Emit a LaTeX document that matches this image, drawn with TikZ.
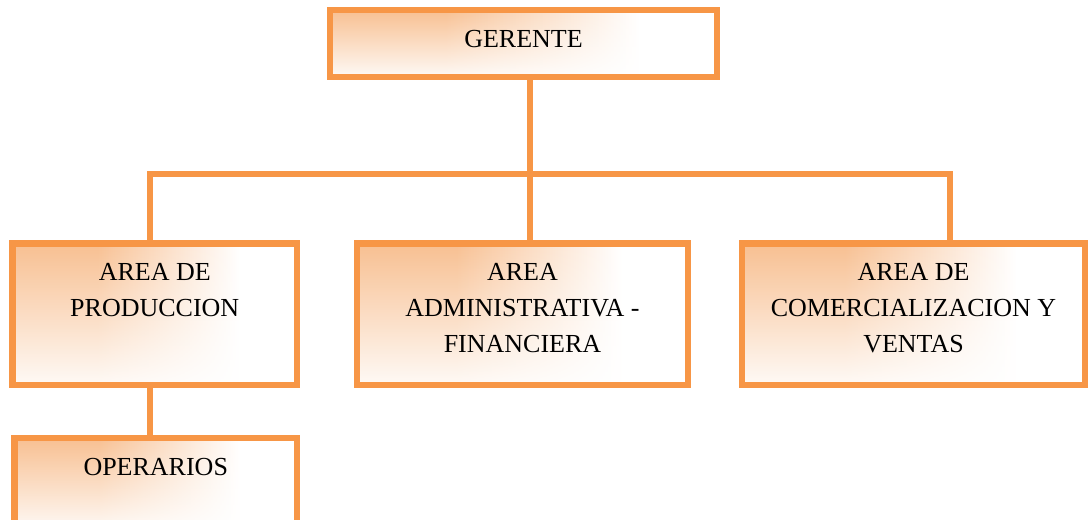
\documentclass[tikz,border=0pt]{standalone}
\usepackage{fontspec}
\setmainfont{Liberation Serif}
\usetikzlibrary{fadings}

\definecolor{boxline}{RGB}{247,150,70}
\definecolor{boxtint}{RGB}{248,192,146}

% soft orange glow on the left, fading to white towards the right
\pgfdeclarehorizontalshading{boxglow}{100bp}{%
  color(0bp)=(boxtint); color(25bp)=(boxtint); color(40bp)=(boxtint);
  color(65bp)=(white); color(100bp)=(white)}

% white veil that thickens towards the bottom of each box
\tikzfading[name=veil, top color=transparent!100,
  middle color=transparent!72, bottom color=transparent!8]

\tikzset{
  orgbox/.style={draw=boxline, line width=6.5pt, shade, shading=boxglow,
    inner sep=0pt, outer sep=0pt,
    path picture={\fill[white, path fading=veil]
      (path picture bounding box.south west) rectangle
      (path picture bounding box.north east);}},
  conn/.style={draw=boxline, line width=6pt},
  boxtext/.style={anchor=north, align=center, inner sep=0pt,
    yshift=-20pt, font=\fontsize{26}{35.8}\selectfont}
}

\begin{document}
\begin{tikzpicture}[x=1pt, y=-1pt]
  \useasboundingbox (0,0) rectangle (1091,519);
  \clip (0,0) rectangle (1091,519);

  % boxes
  \node[orgbox, minimum width=387pt, minimum height=67pt]    (ger)  at (523.5,43.5)  {};
  \node[orgbox, minimum width=284.5pt, minimum height=141.5pt] (prod) at (154.75,314.25) {};
  \node[orgbox, minimum width=331pt, minimum height=141.5pt]   (adm)  at (522.5,314.25) {};
  \node[orgbox, minimum width=343pt, minimum height=141.5pt]   (com)  at (913.5,314.25) {};
  \node[orgbox, minimum width=282.5pt, minimum height=92pt]    (oper) at (155.75,484)   {};

  % labels
  \node[boxtext] (gertxt)  at (ger.north)  {GERENTE};
  \node[boxtext] (prodtxt) at (prod.north) {AREA DE\\PRODUCCION};
  \node[boxtext] (admtxt)  at (adm.north)  {AREA\\ADMINISTRATIVA -\\FINANCIERA};
  \node[boxtext] (comtxt)  at (com.north)  {AREA DE\\COMERCIALIZACION Y\\VENTAS};
  \node[boxtext] (opertxt) at (oper.north) {OPERARIOS};

  % branching points of the connectors
  \coordinate (jl) at (150,174);
  \coordinate (jm) at (529.5,174);
  \coordinate (jr) at (950,174);

  % connectors
  \draw[conn] (ger.south -| jm) -- (jm);
  \draw[conn] (jl |- prod.north) -- (jl) -- (jr) -- (jr |- com.north);
  \draw[conn] (jm) -- (jm |- adm.north);
  \draw[conn] (prod.south -| jl) -- (oper.north -| jl);
\end{tikzpicture}
\end{document}
